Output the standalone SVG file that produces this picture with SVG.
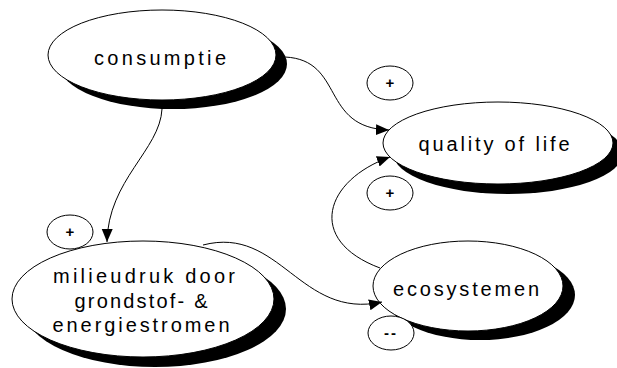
<svg xmlns="http://www.w3.org/2000/svg" width="617" height="368" viewBox="0 0 617 368">
<defs>
<marker id="arr" markerUnits="userSpaceOnUse" markerWidth="14" markerHeight="12" refX="13" refY="5.5" orient="auto">
<path d="M0,0 L13,5.5 L0,11 z" fill="#000"/>
</marker>
<style>
.shadow{fill:#000;stroke:none}
.node{fill:#fff;stroke:#000;stroke-width:1}
.lbl{font-family:"Liberation Sans",Arial,sans-serif;font-size:20px;fill:#000;text-anchor:middle}
.edge{fill:none;stroke:#000;stroke-width:1;marker-end:url(#arr)}
.sign{fill:#fff;stroke:#000;stroke-width:1}
.st{font-family:"Liberation Sans",Arial,sans-serif;font-size:15px;font-weight:bold;fill:#000;text-anchor:middle}
</style>
</defs>
<rect width="617" height="368" fill="#fff"/>
<g id="node-consumptie">
<ellipse class="shadow" cx="173" cy="64" rx="114" ry="45"/>
<ellipse class="node" cx="162" cy="55" rx="114" ry="45"/>
<text class="lbl" x="160" y="65" textLength="132" lengthAdjust="spacing">consumptie</text>
</g>
<g id="node-quality">
<ellipse class="shadow" cx="508" cy="153" rx="115" ry="41"/>
<ellipse class="node" cx="498" cy="143" rx="115" ry="41"/>
<text class="lbl" x="494" y="151" textLength="151" lengthAdjust="spacing">quality of life</text>
</g>
<g id="node-ecosystemen">
<ellipse class="shadow" cx="480" cy="295" rx="95" ry="45"/>
<ellipse class="node" cx="468" cy="286" rx="95" ry="45"/>
<text class="lbl" x="466" y="296" textLength="146" lengthAdjust="spacing">ecosystemen</text>
</g>
<g id="node-milieudruk">
<ellipse class="shadow" cx="155" cy="309" rx="131" ry="58"/>
<ellipse class="node" cx="143" cy="299" rx="131" ry="58"/>
<text class="lbl" x="144" y="283" textLength="182" lengthAdjust="spacing">milieudruk door</text>
<text class="lbl" x="141" y="308" textLength="133" lengthAdjust="spacing">grondstof- &amp;</text>
<text class="lbl" x="141" y="332" textLength="177" lengthAdjust="spacing">energiestromen</text>
</g>
<g id="connectors">
<path class="edge" d="M285,57 C345,60 320,128 389,130"/>
<path class="edge" d="M162,109 C160,150 108,180 107,242"/>
<path class="edge" d="M380,268 C305,240 325,180 390,157"/>
<path class="edge" d="M203,245 C280,225 300,320 382,302"/>
<ellipse class="sign" cx="390" cy="83" rx="23" ry="17"/>
<text class="st" x="390" y="88">+</text>
<ellipse class="sign" cx="390" cy="193" rx="23" ry="17"/>
<text class="st" x="390" y="198">+</text>
<ellipse class="sign" cx="70" cy="232" rx="23" ry="17"/>
<text class="st" x="70" y="237">+</text>
<ellipse class="sign" cx="391" cy="333" rx="23" ry="17"/>
<text class="st" x="391" y="338" letter-spacing="2">--</text>
</g>
</svg>
